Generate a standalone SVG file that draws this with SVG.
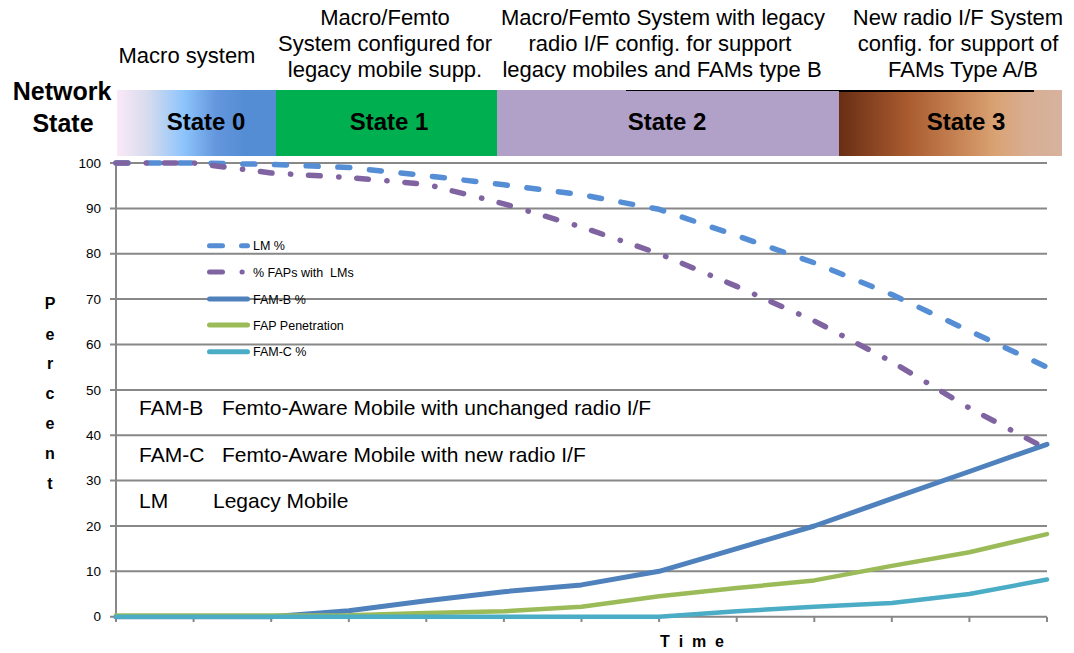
<svg xmlns="http://www.w3.org/2000/svg" width="1074" height="653" viewBox="0 0 1074 653">
<defs>
<linearGradient id="g0" x1="0" y1="0" x2="1" y2="0">
<stop offset="0" stop-color="#FBE9F7"/>
<stop offset="0.2" stop-color="#D5DBEE"/>
<stop offset="0.42" stop-color="#8DC4FC"/>
<stop offset="0.62" stop-color="#6497DD"/>
<stop offset="0.8" stop-color="#558DD4"/>
<stop offset="1" stop-color="#558DD4"/>
</linearGradient>
<linearGradient id="g3" x1="0" y1="0" x2="1" y2="0">
<stop offset="0" stop-color="#682E14"/>
<stop offset="0.3" stop-color="#A85A2E"/>
<stop offset="0.55" stop-color="#C98656"/>
<stop offset="0.7" stop-color="#D9A273"/>
<stop offset="0.85" stop-color="#D8AE94"/>
<stop offset="1" stop-color="#D7B29E"/>
</linearGradient>
<style>
.hdr{font-family:"Liberation Sans",Arial,sans-serif;font-size:22px;fill:#000;text-anchor:middle}
.st{font-family:"Liberation Sans",Arial,sans-serif;font-size:24px;font-weight:bold;fill:#000;text-anchor:middle}
.ns{font-family:"Liberation Sans",Arial,sans-serif;font-size:25px;font-weight:bold;fill:#000;text-anchor:middle}
.ax{font-family:"Liberation Sans",Arial,sans-serif;font-size:13.5px;fill:#000;text-anchor:end}
.pc{font-family:"Liberation Sans",Arial,sans-serif;font-size:16px;font-weight:bold;fill:#000;text-anchor:middle}
.lg{font-family:"Liberation Sans",Arial,sans-serif;font-size:12.5px;fill:#000}
.df{font-family:"Liberation Sans",Arial,sans-serif;font-size:21px;fill:#000}
.grid{stroke:#888888;stroke-width:2;fill:none}
.ser{fill:none;stroke-linecap:round;stroke-linejoin:round}
.lm{stroke:#558ED5;stroke-width:5.5;stroke-dasharray:12 19.7}
.fap{stroke:#8064A2;stroke-width:5.5;stroke-dasharray:11.7 18.5 0.3 17.8}
.famb{stroke:#4F81BD;stroke-width:5}
.pen{stroke:#9BBB59;stroke-width:4.5}
.famc{stroke:#4BACC6;stroke-width:4.5}
</style>
</defs>
<rect width="1074" height="653" fill="#fff"/>

<g id="header-texts">
<text class="hdr" x="187" y="63">Macro system</text>
<text class="hdr" x="385" y="25">Macro/Femto</text>
<text class="hdr" x="385" y="51">System configured for</text>
<text class="hdr" x="385" y="77">legacy mobile supp.</text>
<text class="hdr" x="663" y="25">Macro/Femto System with legacy</text>
<text class="hdr" x="660" y="51">radio I/F config. for support</text>
<text class="hdr" x="662" y="77">legacy mobiles and FAMs type B</text>
<text class="hdr" x="958" y="25">New radio I/F System</text>
<text class="hdr" x="958" y="51">config. for support of</text>
<text class="hdr" x="963" y="77">FAMs Type A/B</text>
</g>

<g id="network-state-label">
<text class="ns" x="62" y="100">Network</text>
<text class="ns" x="63" y="132">State</text>
</g>

<g id="state0"><rect x="117" y="90" width="159" height="66" fill="url(#g0)"/><text class="st" x="206" y="130">State 0</text></g>
<g id="state1"><rect x="276" y="90" width="221" height="66" fill="#00B050"/><text class="st" x="389" y="130">State 1</text></g>
<g id="state2"><rect x="497" y="90" width="342" height="66" fill="#B1A0C7"/><text class="st" x="667" y="130">State 2</text></g>
<g id="state3"><rect x="839" y="90" width="223" height="66" fill="url(#g3)"/><text class="st" x="966" y="130">State 3</text></g>
<g id="top-rule">
<line x1="626" y1="90.5" x2="839" y2="90.5" stroke="#000" stroke-width="1.2"/>
<line x1="839" y1="91" x2="1034" y2="91" stroke="#000" stroke-width="2"/>
</g>

<g id="grid">
<path class="grid" d="M110 163H1047M110 208.4H1047M110 253.7H1047M110 299.1H1047M110 344.5H1047M110 389.9H1047M110 435.2H1047M110 480.6H1047M110 526H1047M110 571.3H1047M110 616.7H1047"/>
<path class="grid" d="M116 162V622M193.6 617V622M271.2 617V622M348.8 617V622M426.3 617V622M503.9 617V622M581.5 617V622M659.1 617V622M736.7 617V622M814.3 617V622M891.8 617V622M969.4 617V622M1047 617V622"/>
</g>

<g id="y-labels">
<text class="ax" x="101" y="167.7">100</text>
<text class="ax" x="101" y="213.1">90</text>
<text class="ax" x="101" y="258.4">80</text>
<text class="ax" x="101" y="303.8">70</text>
<text class="ax" x="101" y="349.2">60</text>
<text class="ax" x="101" y="394.6">50</text>
<text class="ax" x="101" y="439.9">40</text>
<text class="ax" x="101" y="485.3">30</text>
<text class="ax" x="101" y="530.7">20</text>
<text class="ax" x="101" y="576">10</text>
<text class="ax" x="101" y="621.4">0</text>
</g>

<g id="y-title">
<text class="pc" x="50" y="309">P</text>
<text class="pc" x="50" y="340">e</text>
<text class="pc" x="50" y="369">r</text>
<text class="pc" x="50" y="399">c</text>
<text class="pc" x="50" y="429">e</text>
<text class="pc" x="50" y="459">n</text>
<text class="pc" x="50" y="489">t</text>
</g>
<g id="x-title"><text class="pc" x="660" y="647" textLength="64" lengthAdjust="spacing" style="text-anchor:start">T i m e</text></g>

<g id="connectors">
<polyline class="ser lm" points="116,163 193.6,163 271.2,164.4 348.8,167.5 426.3,175.7 503.9,184.8 581.5,194.8 659.1,209.3 736.7,235.6 814.3,262.8 891.8,294.6 969.4,330.9 1047,367.2"/>
<polyline class="ser fap" points="116,163 193.6,163 271.2,173 348.8,177.5 426.3,184.3 503.9,203.8 581.5,227 659.1,253.7 736.7,286.4 814.3,320.9 891.8,361.7 969.4,408 1043,447"/>
<polyline class="ser famb" points="116,616.7 193.6,616.7 271.2,616.7 348.8,610.8 426.3,600.8 503.9,591.7 581.5,584.9 659.1,571.3 736.7,548.6 814.3,526 891.8,498.7 969.4,471.5 1047,444.3"/>
<polyline class="ser pen" points="116,615.6 193.6,615.6 271.2,615.6 348.8,615.3 426.3,613.1 503.9,611.3 581.5,606.7 659.1,596.3 736.7,588.1 814.3,580.4 891.8,565.9 969.4,552.3 1047,534.1"/>
<polyline class="ser famc" points="116,616.7 193.6,616.7 271.2,616.7 348.8,616.7 426.3,616.7 503.9,616.7 581.5,616.7 659.1,616.7 736.7,611.3 814.3,606.7 891.8,603.1 969.4,594 1047,579.5"/>
</g>

<g id="legend">
<g class="ser" style="stroke:#558ED5;stroke-width:5"><line x1="209.5" y1="245.7" x2="222.5" y2="245.7"/><line x1="241.5" y1="245.7" x2="247.5" y2="245.7"/></g>
<text class="lg" x="253" y="250.2">LM %</text>
<g class="ser" style="stroke:#8064A2;stroke-width:5"><line x1="209.5" y1="272" x2="222.5" y2="272"/><line x1="242" y1="272" x2="242.2" y2="272"/></g>
<text class="lg" x="253" y="276.5" xml:space="preserve">% FAPs with  LMs</text>
<line class="ser" x1="209.5" y1="299" x2="247.5" y2="299" style="stroke:#4F81BD;stroke-width:5"/>
<text class="lg" x="253" y="303.5">FAM-B %</text>
<line class="ser" x1="209.5" y1="325" x2="247.5" y2="325" style="stroke:#9BBB59;stroke-width:5"/>
<text class="lg" x="253" y="329.5">FAP Penetration</text>
<line class="ser" x1="209.5" y1="351.7" x2="247.5" y2="351.7" style="stroke:#4BACC6;stroke-width:5"/>
<text class="lg" x="253" y="356.2">FAM-C %</text>
</g>

<g id="definitions">
<text class="df" x="139" y="415">FAM-B</text>
<text class="df" x="222" y="415">Femto-Aware Mobile with unchanged radio I/F</text>
<text class="df" x="139" y="462">FAM-C</text>
<text class="df" x="222" y="462">Femto-Aware Mobile with new radio I/F</text>
<text class="df" x="139" y="508">LM</text>
<text class="df" x="213" y="508">Legacy Mobile</text>
</g>
</svg>
